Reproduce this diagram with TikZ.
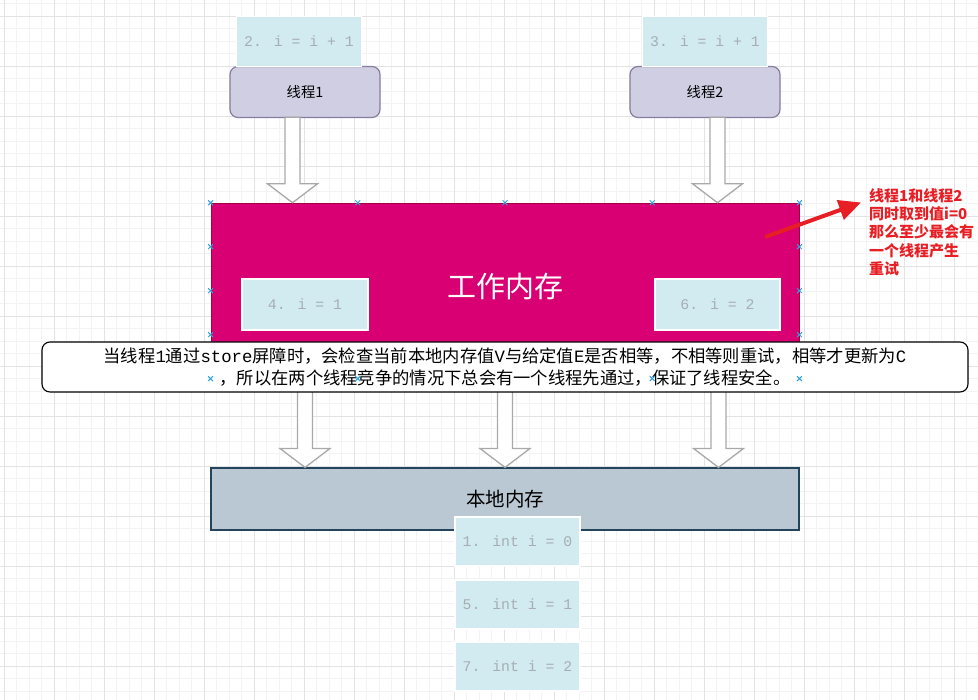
\documentclass[tikz,border=0pt]{standalone}
\usepackage{fontspec}
\setmainfont{Noto Sans CJK SC}
\newfontfamily\mono{Liberation Mono}
\usetikzlibrary{calc,arrows.meta}

\definecolor{gridmaj}{HTML}{E3E3E3}
\definecolor{gridmin}{HTML}{F3F3F3}
\definecolor{valblue}{HTML}{D1EBF0}
\definecolor{valtext}{HTML}{A6AEB4}
\definecolor{thrfill}{HTML}{D0CEE2}
\definecolor{thrdraw}{HTML}{857DA2}
\definecolor{wmfill}{HTML}{D80073}
\definecolor{wmdraw}{HTML}{A50040}
\definecolor{lmfill}{HTML}{BAC8D3}
\definecolor{lmdraw}{HTML}{23445D}
\definecolor{arrgray}{HTML}{A9A9A9}
\definecolor{redc}{HTML}{E81E25}
\definecolor{markc}{HTML}{2EA3E0}

\newcommand\lat[1]{{\mono #1}}

% hollow downward block arrow from #1 (top of shaft) to #2 (tip)
\newcommand\hollowdown[2]{%
  \path let \p1=(#1), \p2=(#2) in
    [blockarrow]
    ({\x1-7.5pt},\y1) -- ({\x1-7.5pt},{\y2+19pt}) -- ({\x1-25pt},{\y2+19pt})
    -- (\x1,\y2) -- ({\x1+25pt},{\y2+19pt}) -- ({\x1+7.5pt},{\y2+19pt})
    -- ({\x1+7.5pt},\y1) -- cycle;}

\tikzset{
  gridminor/.style={gridmin, line width=0.8},
  gridmajor/.style={gridmaj, line width=0.9},
  valbox/.style={fill=valblue, draw=white, line width=1.2, minimum width=125,
    minimum height=50, inner sep=0, text=valtext,
    font=\mono\fontsize{14.8}{18}\selectfont},
  thread/.style={fill=thrfill, draw=thrdraw, line width=1.2, rounded corners=8,
    minimum width=150, minimum height=51, inner sep=0,
    font=\fontsize{14.3}{16}\selectfont},
  workmem/.style={fill=wmfill, draw=wmdraw, line width=0.9, minimum width=588,
    minimum height=175, inner sep=0, text=white,
    font=\fontsize{29}{32}\selectfont},
  localmem/.style={fill=lmfill, draw=lmdraw, line width=1.1, minimum width=588,
    minimum height=62, inner sep=0, font=\fontsize{19.5}{22}\selectfont},
  notebox/.style={fill=white, draw=black, line width=1.1, rounded corners=8,
    minimum width=926, minimum height=50, inner sep=0, align=center,
    font=\fontsize{17.3}{22}\selectfont},
  rednote/.style={text=redc, align=left, inner sep=0, anchor=west,
    font=\bfseries\fontsize{15}{18.3}\selectfont},
  blockarrow/.style={draw=arrgray, fill=white, line width=1.3, line join=miter},
  redarrow/.style={draw=redc, line width=4, line cap=round,
    -{Triangle[length=22,width=20]}},
  xmark/.pic={\draw[markc, line width=1] (-2.4,-2.4) -- (2.4,2.4) (-2.4,2.4) -- (2.4,-2.4);}
}

\begin{document}
\begin{tikzpicture}[x=1pt,y=-1pt]
\useasboundingbox (0,0) rectangle (978,700);
\fill[white] (0,0) rectangle (978,700);

% background grid
\foreach \k in {0,...,78}
  \draw[gridminor] ({4.3+12.5*\k},0) -- ({4.3+12.5*\k},700);
\foreach \k in {-1,...,55}
  \draw[gridminor] (0,{16.3+12.5*\k}) -- (978,{16.3+12.5*\k});
\foreach \k in {0,...,19}
  \draw[gridmajor] ({4.3+50*\k},0) -- ({4.3+50*\k},700);
\foreach \k in {0,...,13}
  \draw[gridmajor] (0,{16.3+50*\k}) -- (978,{16.3+50*\k});

% threads and their pending updates
\node[thread] (t1) at (305,92) {线程1};
\node[valbox] (v2) at (299,41.5) {2. i = i + 1};
\node[thread] (t2) at (705,92) {线程2};
\node[valbox] (v3) at (705,41.5) {3. i = i + 1};

% main memory
\node[workmem] (wm) at (505,290.7) {};
\node[text=white, font=\fontsize{29}{32}\selectfont] (wmlabel) at (505,287) {工作内存};
\node[valbox, minimum width=126, minimum height=51] (v4) at (305,304.5) {4. i = 1};
\node[valbox, minimum height=51] (v6) at (717.5,304.5) {6. i = 2};

% local memory and its values
\node[localmem] (lm) at (505,499) {本地内存};
\node[valbox, minimum height=49] (v1) at (517.5,541.5) {1. int i = 0};
\node[valbox, minimum height=49] (v5) at (517.5,604.5) {5. int i = 1};
\node[valbox, minimum height=49] (v7) at (517.5,666.5) {7. int i = 2};

% block arrows: threads -> main memory
\coordinate (u1) at (292.5,117.3);
\coordinate (u2) at (717.5,117.3);
\hollowdown{u1}{u1 |- wm.north}
\hollowdown{u2}{u2 |- wm.north}

% block arrows: main memory -> local memory
\coordinate (d1) at (305,378.2);
\coordinate (d2) at (505,378.2);
\coordinate (d3) at (718.5,378.2);
\hollowdown{d1}{d1 |- lm.north}
\hollowdown{d2}{d2 |- lm.north}
\hollowdown{d3}{d3 |- lm.north}

% explanation
\node[notebox] (note) at (505,367) {当线程\lat{1}通过\lat{store}屏障时，会检查当前本地内存值\lat{V}与给定值\lat{E}是否相等，不相等则重试，相等才更新为\lat{C}\\，所以在两个线程竞争的情况下总会有一个线程先通过，保证了线程安全。};

% connection points of the main memory block
\foreach \f in {0,0.25,0.5,0.75,1}
  \pic at ($(wm.north west)!\f!(wm.north east)$) {xmark};
\foreach \f in {0.25,0.5,0.75}{
  \pic at ($(wm.north west)!\f!(wm.south west)$) {xmark};
  \pic at ($(wm.north east)!\f!(wm.south east)$) {xmark};
}
\foreach \f in {0,0.25,0.75,1}
  \pic at ($(wm.south west)!\f!(wm.south east)$) {xmark};

% red remark
\node[rednote] (remark) at (869,232) {线程1和线程2\\同时取到值i=0\\那么至少最会有\\一个线程产生\\重试};
\coordinate (rtail) at (766.5,236.5);
\coordinate (rtip) at (861,202.5);
\draw[redarrow] (rtail) -- (rtip);
\end{tikzpicture}
\end{document}
